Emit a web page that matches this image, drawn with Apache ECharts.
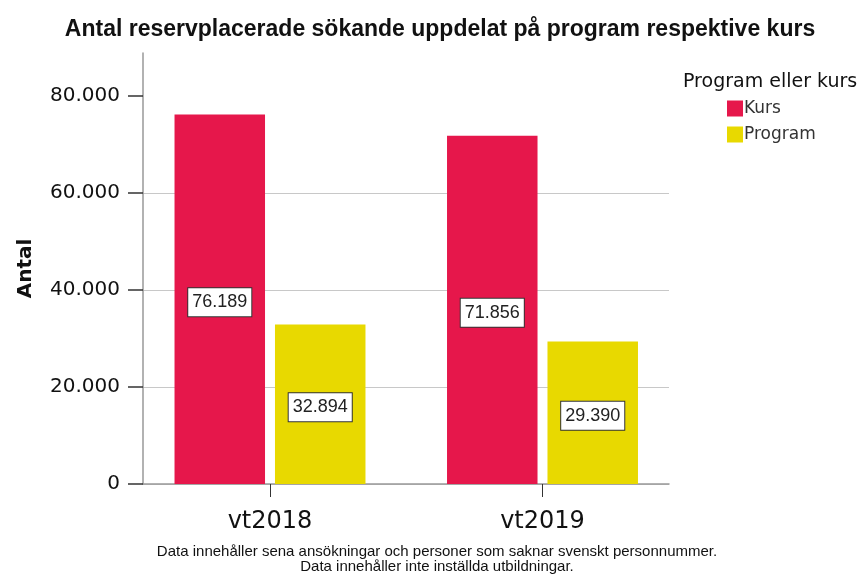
<!DOCTYPE html>
<html>
<head>
<meta charset="utf-8">
<script src="https://cdn.jsdelivr.net/npm/echarts@6/dist/echarts.min.js"></script>
<style>html,body{margin:0;padding:0;background:#fff}#c{width:865px;height:576px}</style>
</head>
<body>
<div id="c"></div>
<script>
const categories = ['vt2018', 'vt2019'];
const kursValues = [76189, 71856];
const programValues = [32894, 29390];
const seriesNames = ['Kurs', 'Program'];
const yTicks = [0, 20000, 40000, 60000, 80000];
const yMax = 88900;

function fmt(v) {
  return String(Math.round(v)).replace(/\B(?=(\d{3})+(?!\d))/g, '.');
}

const chart = echarts.init(document.getElementById('c'));
const labelStyle = {
  show: true,
  position: 'inside',
  offset: [0, 3],
  formatter: p => fmt(p.value),
  fontFamily: 'Liberation Sans',
  fontSize: 18,
  lineHeight: 20,
  color: '#222',
  backgroundColor: '#fff',
  borderColor: '#333',
  borderWidth: 1,
  padding: [5, 4, 3, 4]
};

chart.setOption({
  animation: false,
  title: [
    { text: 'Antal reservplacerade sökande uppdelat på program respektive kurs', left: 435, top: 13, textAlign: 'center',
      textStyle: { fontFamily: 'Liberation Sans', fontWeight: 'bold', fontSize: 23, color: '#111' } },
    { text: 'Program eller kurs', left: 683, top: 73, padding: 0,
      textStyle: { fontFamily: 'DejaVu Sans', fontWeight: 'normal', fontSize: 19, color: '#111' } }
  ],
  legend: {
    data: seriesNames, orient: 'vertical', left: 727, top: 100, padding: 0,
    itemWidth: 16, itemHeight: 16, itemGap: 9, icon: 'rect',
    textStyle: { fontFamily: 'DejaVu Sans', fontSize: 17, color: '#333', padding: [0, 0, 0, -4] }
  },
  grid: [
    { left: 143, top: 53, width: 526, height: 431 },
    { left: 133.75, top: 53, width: 545, height: 431 }
  ],
  xAxis: [
    { gridIndex: 0, type: 'value', min: 0, max: 1, axisLine: { show: true, lineStyle: { color: '#999', width: 1.5 } },
      axisTick: { show: false }, axisLabel: { show: false }, splitLine: { show: false } },
    { gridIndex: 1, type: 'category', data: categories, axisLine: { show: false },
      axisTick: { show: true, alignWithLabel: true, length: 13, lineStyle: { color: '#333' } },
      axisLabel: { fontFamily: 'DejaVu Sans', fontSize: 24, color: '#111', margin: 26 } }
  ],
  yAxis: [
    { gridIndex: 0, type: 'value', min: 0, max: yMax, interval: 20000,
      name: 'Antal', nameLocation: 'middle', nameGap: 107, nameRotate: 90,
      nameTextStyle: { fontFamily: 'DejaVu Sans', fontWeight: 'bold', fontSize: 20, color: '#111' },
      axisLine: { show: true, lineStyle: { color: '#999', width: 1.5 } },
      axisTick: { show: true, inside: false, length: 15, lineStyle: { color: '#333', width: 1.5 }, customValues: yTicks },
      axisLabel: { fontFamily: 'DejaVu Sans', fontSize: 20, color: '#111', margin: 23, customValues: yTicks, formatter: v => fmt(v) },
      splitLine: { show: true, showMaxLine: false, lineStyle: { color: '#c8c8c8', width: 1 } } },
    { gridIndex: 1, type: 'value', min: 0, max: yMax, show: false }
  ],
  series: [
    { name: seriesNames[0], type: 'bar', xAxisIndex: 1, yAxisIndex: 1, data: kursValues,
      barWidth: 90.5, barGap: '11%', itemStyle: { color: '#E6174B' }, label: labelStyle },
    { name: seriesNames[1], type: 'bar', xAxisIndex: 1, yAxisIndex: 1, data: programValues,
      barWidth: 90.5, barGap: '11%', itemStyle: { color: '#E8D900' }, label: labelStyle }
  ],
  graphic: [
    { type: 'text', x: 437, y: 544, style: {
      text: 'Data innehåller sena ansökningar och personer som saknar svenskt personnummer.\nData innehåller inte inställda utbildningar.',
      align: 'center', verticalAlign: 'top', fontFamily: 'Liberation Sans', fontSize: 15, lineHeight: 15, fill: '#111' } }
  ]
});
</script>
</body>
</html>
